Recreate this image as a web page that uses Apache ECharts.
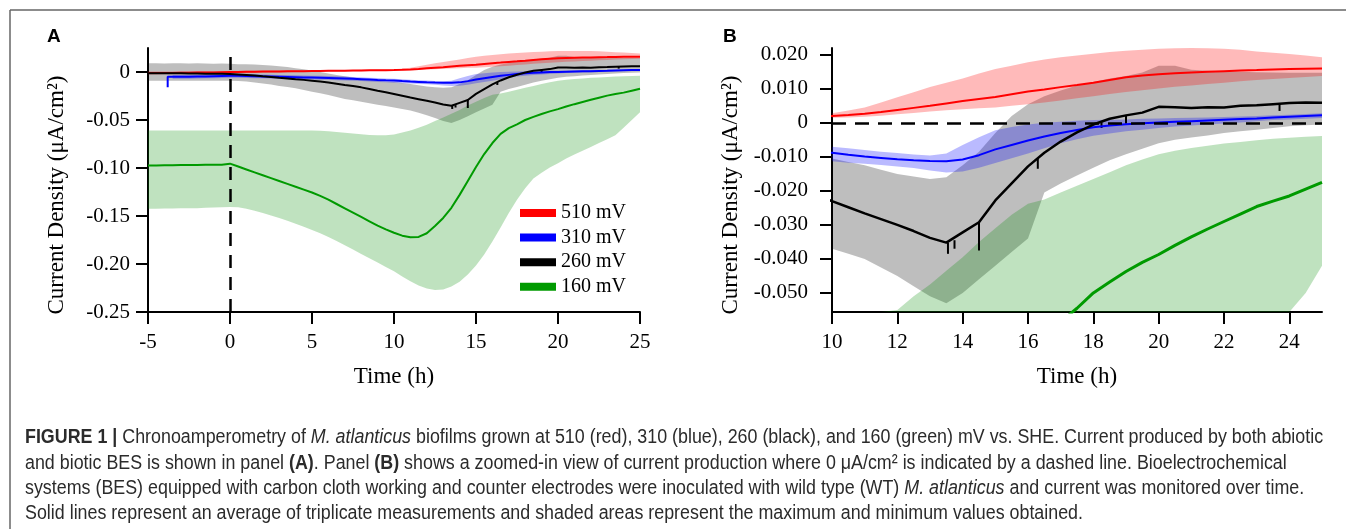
<!DOCTYPE html>
<html>
<head>
<meta charset="utf-8">
<script src="https://cdn.jsdelivr.net/npm/echarts@6/dist/echarts.min.js"></script>
<style>
  html, body { margin: 0; padding: 0; background: #fff; }
  #main { width: 1346px; height: 529px; }
</style>
</head>
<body>
<div id="main"></div>
<script>
// time samples (h)
var hours = [-5,-4.5,-4,-3.5,-3,-2.5,-2,-1.5,-1,-0.5,
  0,0.5,1,1.5,2,2.5,3,3.5,4,4.5,
  5,5.5,6,6.5,7,7.5,8,8.5,9,9.5,
  10,10.5,11,11.5,12,12.5,13,13.5,14,14.5,
  15,15.5,16,16.5,17,17.5,18,18.5,19,19.5,
  20,20.5,21,21.5,22,22.5,23,23.5,24,24.5,
  25];

// 510 mV
var mean510 = [-0.001,-0.001,-0.001,-0.001,-0.0008,-0.0008,-0.0006,-0.0005,-0.0004,-0.0002,
  0,0.0001,0.0002,0.0003,0.0004,0.0005,0.0006,0.0007,0.0008,0.0009,
  0.001,0.0011,0.0012,0.0013,0.0014,0.0015,0.0016,0.0017,0.0018,0.0019,
  0.002,0.0023,0.0027,0.0032,0.0038,0.0044,0.005,0.0057,0.0064,0.007,
  0.0076,0.0084,0.0092,0.0098,0.0105,0.0111,0.0118,0.0126,0.0134,0.0139,
  0.0143,0.0146,0.0148,0.015,0.0152,0.0154,0.0155,0.0157,0.0158,0.0159,
  0.016];
var hi510 = [0.0005,0.0005,0.0005,0.0005,0.0006,0.0006,0.0007,0.0008,0.0009,0.001,
  0.001,0.0011,0.0012,0.0013,0.0014,0.0015,0.0016,0.0017,0.0018,0.0019,
  0.0019,0.002,0.002,0.0021,0.0022,0.0022,0.0023,0.0024,0.0025,0.0026,
  0.0028,0.0036,0.0045,0.006,0.0075,0.009,0.0105,0.0118,0.013,0.0145,
  0.0158,0.0168,0.0178,0.0186,0.0193,0.0198,0.0203,0.0208,0.0212,0.0215,
  0.0218,0.0219,0.022,0.0219,0.0218,0.0215,0.021,0.0206,0.0202,0.0198,
  0.0193];
var lo510 = [-0.0025,-0.0025,-0.0024,-0.0024,-0.0023,-0.0022,-0.0021,-0.002,-0.0019,-0.0018,
  -0.0016,-0.0014,-0.0012,-0.001,-0.0008,-0.0006,-0.0004,-0.0002,0,0.0002,
  0.0003,0.0004,0.0005,0.0006,0.0007,0.0008,0.0009,0.001,0.0011,0.0013,
  0.0015,0.0016,0.0018,0.0021,0.0025,0.0029,0.0033,0.0037,0.004,0.0043,
  0.0045,0.005,0.0055,0.006,0.0066,0.0072,0.0078,0.0085,0.0091,0.0096,
  0.0101,0.0106,0.011,0.0114,0.0118,0.0122,0.0126,0.0129,0.0132,0.0135,
  0.0138];

// 310 mV
var mean310 = [null,null,null,-0.005,-0.005,-0.005,-0.0048,-0.0046,-0.0044,-0.0042,
  -0.004,-0.004,-0.0042,-0.0044,-0.0046,-0.0048,-0.005,-0.0052,-0.0054,-0.0056,
  -0.0058,-0.006,-0.0062,-0.0065,-0.0068,-0.0071,-0.0075,-0.0079,-0.0083,-0.0086,
  -0.0088,-0.0094,-0.0099,-0.0103,-0.0107,-0.011,-0.0112,-0.0113,-0.0108,-0.0095,
  -0.0078,-0.0065,-0.0052,-0.004,-0.003,-0.0021,-0.0013,-0.0008,-0.0004,-0.0001,
  0.0001,0.0003,0.0005,0.0007,0.0009,0.0011,0.0013,0.0016,0.0018,0.002,
  0.0022];
var hi310 = [null,null,null,-0.003,-0.003,-0.003,-0.0028,-0.0026,-0.0024,-0.0022,
  -0.002,-0.002,-0.0022,-0.0024,-0.0026,-0.0028,-0.003,-0.0032,-0.0034,-0.0036,
  -0.0038,-0.004,-0.0042,-0.0045,-0.0048,-0.0051,-0.0055,-0.0059,-0.0063,-0.0067,
  -0.007,-0.0075,-0.008,-0.0085,-0.0089,-0.0093,-0.0096,-0.009,-0.0065,-0.0042,
  -0.0022,-0.0012,-0.0005,0,0.0003,0.0006,0.0008,0.0009,0.001,0.0012,
  0.0013,0.0014,0.0015,0.0016,0.0017,0.0019,0.002,0.0022,0.0024,0.0026,
  0.0028];
var lo310 = [null,null,null,-0.007,-0.007,-0.007,-0.0068,-0.0066,-0.0064,-0.0062,
  -0.006,-0.006,-0.0062,-0.0064,-0.0066,-0.0068,-0.007,-0.0072,-0.0074,-0.0076,
  -0.0078,-0.008,-0.0082,-0.0085,-0.0088,-0.0091,-0.0095,-0.0099,-0.0103,-0.0108,
  -0.0113,-0.0117,-0.012,-0.0124,-0.0128,-0.0133,-0.014,-0.0146,-0.0143,-0.0132,
  -0.0118,-0.0104,-0.009,-0.0075,-0.006,-0.0048,-0.0038,-0.0031,-0.0025,-0.002,
  -0.0015,-0.0011,-0.0008,-0.0005,-0.0002,0.0001,0.0005,0.0008,0.001,0.0012,
  0.0014];
var blueStart = [[-3.8, -0.016], [-3.8, -0.005]];

// 260 mV
var mean260 = [-0.0012,-0.0012,-0.0013,-0.0013,-0.0014,-0.0015,-0.0016,-0.0017,-0.0018,-0.0019,
  -0.002,-0.0025,-0.003,-0.0037,-0.0045,-0.0052,-0.006,-0.0067,-0.0075,-0.0082,
  -0.009,-0.01,-0.011,-0.0122,-0.0135,-0.0147,-0.016,-0.0177,-0.0195,-0.0212,
  -0.023,-0.0248,-0.0266,-0.0283,-0.03,-0.0318,-0.0338,-0.0352,-0.0322,-0.0292,
  -0.0228,-0.0178,-0.0128,-0.0088,-0.0055,-0.0028,-0.0005,0.0012,0.0022,0.003,
  0.0047,0.0046,0.0044,0.0046,0.0045,0.005,0.0052,0.0055,0.0058,0.006,
  0.0059];
var hi260 = [0.009,0.009,0.0088,0.0092,0.009,0.0088,0.0091,0.0089,0.0087,0.0088,
  0.0085,0.0082,0.008,0.0077,0.0073,0.0068,0.006,0.0052,0.004,0.0028,
  0.0015,0,-0.0015,-0.003,-0.0045,-0.0058,-0.007,-0.008,-0.009,-0.0098,
  -0.0105,-0.0115,-0.0125,-0.0138,-0.015,-0.0158,-0.0165,-0.016,-0.0125,-0.0085,
  -0.003,0.002,0.0055,0.0078,0.0095,0.011,0.012,0.013,0.0138,0.0148,
  0.0168,0.0168,0.0156,0.0153,0.0152,0.015,0.0149,0.0148,0.0147,0.0147,
  0.0147];
var lo260 = [-0.009,-0.009,-0.009,-0.009,-0.009,-0.009,-0.009,-0.009,-0.009,-0.009,
  -0.009,-0.0095,-0.01,-0.011,-0.012,-0.013,-0.0145,-0.0157,-0.017,-0.0187,
  -0.0205,-0.0222,-0.024,-0.026,-0.028,-0.0295,-0.031,-0.0325,-0.034,-0.0355,
  -0.037,-0.0385,-0.04,-0.0425,-0.045,-0.048,-0.051,-0.053,-0.05,-0.046,
  -0.042,-0.038,-0.034,-0.0205,-0.0178,-0.0155,-0.0132,-0.011,-0.0092,-0.0076,
  -0.006,-0.005,-0.0043,-0.0037,-0.003,-0.0025,-0.002,-0.0015,-0.001,-0.0007,
  -0.0005];
// [time, top, bottom] of the short downward spikes on the 260 mV trace
var spikes260 = [[13.55,-0.0352,-0.0385],[13.75,-0.0345,-0.037],[14.5,-0.0292,-0.0375],
  [16.3,-0.0105,-0.0135],[18.25,0.0002,-0.0015],[19.0,0.0022,-0.0003],[23.7,0.0056,0.0035]];

// 160 mV
var mean160 = [-0.0975,-0.0973,-0.0972,-0.0972,-0.097,-0.097,-0.0968,-0.0967,-0.0966,-0.0965,
  -0.0955,-0.0985,-0.1015,-0.1045,-0.1075,-0.1105,-0.1135,-0.1165,-0.1195,-0.1225,
  -0.1255,-0.129,-0.133,-0.1375,-0.142,-0.1465,-0.151,-0.1555,-0.16,-0.164,
  -0.1675,-0.1705,-0.1722,-0.1718,-0.168,-0.1605,-0.152,-0.1415,-0.128,-0.1135,
  -0.099,-0.0855,-0.074,-0.0645,-0.0585,-0.0545,-0.05,-0.0468,-0.0437,-0.041,
  -0.0387,-0.036,-0.0335,-0.0312,-0.029,-0.0268,-0.0246,-0.023,-0.0215,-0.0195,
  -0.0175];
var hi160 = [-0.061,-0.061,-0.061,-0.061,-0.061,-0.061,-0.061,-0.061,-0.061,-0.061,
  -0.061,-0.061,-0.061,-0.061,-0.061,-0.061,-0.061,-0.061,-0.061,-0.061,
  -0.061,-0.0613,-0.0618,-0.0625,-0.0632,-0.064,-0.0648,-0.0655,-0.066,-0.0658,
  -0.065,-0.063,-0.061,-0.058,-0.055,-0.051,-0.0475,-0.0435,-0.0395,-0.035,
  -0.031,-0.027,-0.0238,-0.0225,-0.0205,-0.0185,-0.0165,-0.0145,-0.0125,-0.0108,
  -0.0092,-0.0082,-0.0074,-0.0067,-0.0061,-0.0056,-0.0051,-0.0047,-0.0044,-0.0041,
  -0.0039];
var lo160 = [-0.1425,-0.1425,-0.1423,-0.1422,-0.142,-0.142,-0.1418,-0.1415,-0.1412,-0.141,
  -0.1405,-0.141,-0.1425,-0.1445,-0.147,-0.1495,-0.152,-0.155,-0.158,-0.1612,
  -0.1645,-0.168,-0.172,-0.176,-0.1805,-0.185,-0.1895,-0.194,-0.1985,-0.203,
  -0.2075,-0.213,-0.218,-0.2225,-0.2255,-0.227,-0.2265,-0.2235,-0.2185,-0.211,
  -0.2015,-0.19,-0.1765,-0.162,-0.147,-0.133,-0.121,-0.111,-0.105,-0.0995,
  -0.095,-0.09,-0.086,-0.082,-0.078,-0.074,-0.07,-0.066,-0.058,-0.05,
  -0.042];

// ticks
var ticksAx = [-5, 0, 5, 10, 15, 20, 25];
var ticksAy = [-0.25, -0.2, -0.15, -0.1, -0.05, 0];
var ticksBx = [10, 12, 14, 16, 18, 20, 22, 24];
var ticksBy = [-0.05, -0.04, -0.03, -0.02, -0.01, 0, 0.01, 0.02];

var serif = '"Liberation Serif", "Times New Roman", serif';
var sans = '"Liberation Sans", Arial, sans-serif';

var panels = [
  { xMin: -5, xMax: 25, yMin: -0.25, yMax: 0.025, left: 148, width: 492, xt: ticksAx, yt: ticksAy, dec: 2, margin: 18 },
  { xMin: 10, xMax: 25, yMin: -0.0556, yMax: 0.022, left: 832, width: 490, xt: ticksBx, yt: ticksBy, dec: 3, margin: 24 }
];

var colors = { r: '#ff0000', b: '#0000ff', k: '#000000', g: '#009a00' };

function bandSeries(p, lo, hi, fill) {
  var P = panels[p];
  function clampY(v) { return Math.max(P.yMin, Math.min(P.yMax, v)); }
  return {
    type: 'custom', xAxisIndex: p, yAxisIndex: p, silent: true, clip: true, z: 1,
    data: [[P.xMin, P.yMin]],
    renderItem: function (params, api) {
      var top = [], bottom = [];
      hours.forEach(function (t, i) {
        if (t < P.xMin || t > P.xMax || hi[i] == null) return;
        top.push(api.coord([t, clampY(hi[i])]));
        bottom.unshift(api.coord([t, clampY(lo[i])]));
      });
      return { type: 'polygon', shape: { points: top.concat(bottom) }, style: { fill: fill } };
    }
  };
}

function lineSeries(p, name, values, color, width, extra) {
  var data = [];
  hours.forEach(function (t, i) { if (values[i] != null) data.push([t, values[i]]); });
  if (extra) data = extra.concat(data);
  return {
    type: 'line', name: name, xAxisIndex: p, yAxisIndex: p, data: data, color: color,
    symbol: 'none', showSymbol: false, clip: true, silent: true, z: 3,
    lineStyle: { color: color, width: width }
  };
}

function spikeSeries(p) {
  return {
    type: 'custom', xAxisIndex: p, yAxisIndex: p, silent: true, clip: true, z: 3,
    data: spikes260, encode: { x: 0, y: [1, 2] },
    renderItem: function (params, api) {
      var a = api.coord([api.value(0), api.value(1)]);
      var b = api.coord([api.value(0), api.value(2)]);
      return { type: 'line', shape: { x1: a[0], y1: a[1], x2: b[0], y2: b[1] }, style: { stroke: '#000', lineWidth: 2 } };
    }
  };
}

var series = [];
panels.forEach(function (P, p) {
  series.push(bandSeries(p, lo260, hi260, 'rgba(0,0,0,0.255)'));
  series.push(bandSeries(p, lo160, hi160, 'rgba(0,140,0,0.25)'));
  series.push(bandSeries(p, lo310, hi310, 'rgba(0,0,255,0.27)'));
  series.push(bandSeries(p, lo510, hi510, 'rgba(255,0,0,0.27)'));
  series.push(lineSeries(p, '510 mV', mean510, colors.r, 2));
  series.push(lineSeries(p, '310 mV', mean310, colors.b, 2, p === 0 ? blueStart : null));
  var black = lineSeries(p, '260 mV', mean260, colors.k, p === 0 ? 2 : 2.5);
  black.markLine = {
    silent: true, symbol: 'none', label: { show: false }, animation: false,
    lineStyle: { color: '#000', width: 2.5, type: p === 0 ? [13, 9] : [14, 9] },
    data: p === 0 ? [{ xAxis: 0 }] : [{ yAxis: 0 }]
  };
  series.push(black);
  series.push(spikeSeries(p));
  series.push(lineSeries(p, '160 mV', mean160, colors.g, p === 0 ? 2 : 3));
});

// caption
var captionLines = [
  '{b|FIGURE 1 |} Chronoamperometry of {i|M. atlanticus} biofilms grown at 510 (red), 310 (blue), 260 (black), and 160 (green) mV vs. SHE. Current produced by both abiotic',
  'and biotic BES is shown in panel {b|(A)}. Panel {b|(B)} shows a zoomed-in view of current production where 0 \u03bcA/cm\u00b2 is indicated by a dashed line. Bioelectrochemical',
  'systems (BES) equipped with carbon cloth working and counter electrodes were inoculated with wild type (WT) {i|M. atlanticus} and current was monitored over time.',
  'Solid lines represent an average of triplicate measurements and shaded areas represent the maximum and minimum values obtained.'
];
var ctx = document.createElement('canvas').getContext('2d');
ctx.font = '20px ' + sans;
var capScale = 1058 / ctx.measureText(captionLines[3]).width;

var graphic = [
  { type: 'line', shape: { x1: 10, y1: 10, x2: 1346, y2: 10 }, style: { stroke: '#666', lineWidth: 1.5 } },
  { type: 'line', shape: { x1: 10, y1: 10, x2: 10, y2: 529 }, style: { stroke: '#666', lineWidth: 1.5 } },
  { type: 'text', x: 47, y: 37, style: { text: 'A', font: 'bold 19px ' + sans, fill: '#000', verticalAlign: 'middle' } },
  { type: 'text', x: 723, y: 37, style: { text: 'B', font: 'bold 19px ' + sans, fill: '#000', verticalAlign: 'middle' } },
  { type: 'text', x: 57, y: 195, rotation: Math.PI / 2, style: { text: 'Current Density (\u03bcA/cm\u00b2)', font: '23px ' + serif, fill: '#000', align: 'center', verticalAlign: 'middle' } },
  { type: 'text', x: 731, y: 195, rotation: Math.PI / 2, style: { text: 'Current Density (\u03bcA/cm\u00b2)', font: '23px ' + serif, fill: '#000', align: 'center', verticalAlign: 'middle' } }
];
var capY = [437, 463, 488, 513];
captionLines.forEach(function (txt, i) {
  graphic.push({
    type: 'text', x: 25, y: capY[i], scaleX: capScale,
    style: {
      text: txt, fontSize: 20, fontFamily: sans, fill: '#2b2b2b', verticalAlign: 'middle',
      rich: {
        b: { fontSize: 20, fontFamily: sans, fontWeight: 'bold', fill: '#2b2b2b' },
        i: { fontSize: 20, fontFamily: sans, fontStyle: 'italic', fill: '#2b2b2b' }
      }
    }
  });
});

var chart = echarts.init(document.getElementById('main'));
chart.setOption({
  animation: false,
  backgroundColor: '#fff',
  grid: panels.map(function (P) {
    return { left: P.left, top: 48, width: P.width, height: 264 };
  }),
  xAxis: panels.map(function (P, p) {
    return {
      type: 'value', gridIndex: p, min: P.xMin, max: P.xMax,
      axisLine: { onZero: false, lineStyle: { color: '#000', width: 2 } },
      axisTick: { show: true, length: 12, customValues: P.xt, lineStyle: { color: '#000', width: 2 } },
      axisLabel: { customValues: P.xt, margin: 20, color: '#000', fontSize: 21, fontFamily: serif,
        formatter: function (v) { return String(v); } },
      splitLine: { show: false },
      name: 'Time (h)', nameLocation: 'middle', nameGap: 53,
      nameTextStyle: { color: '#000', fontSize: 23, fontFamily: serif }
    };
  }),
  yAxis: panels.map(function (P, p) {
    return {
      type: 'value', gridIndex: p, min: P.yMin, max: P.yMax,
      axisLine: { show: true, onZero: false, lineStyle: { color: '#000', width: 2 } },
      axisTick: { show: true, length: 12, customValues: P.yt, lineStyle: { color: '#000', width: 2 } },
      axisLabel: { customValues: P.yt, margin: P.margin, color: '#000', fontSize: 21, fontFamily: serif,
        formatter: function (v) { return Math.abs(v) < 1e-9 ? '0' : v.toFixed(P.dec); } },
      splitLine: { show: false }
    };
  }),
  legend: {
    data: ['510 mV', '310 mV', '260 mV', '160 mV'], orient: 'vertical', left: 520, top: 203, padding: 0,
    itemWidth: 36, itemHeight: 8, itemGap: 4.6, icon: 'rect', selectedMode: false,
    textStyle: { color: '#000', fontSize: 20, fontFamily: serif, lineHeight: 20 }
  },
  graphic: graphic,
  series: series
});
</script>
</body>
</html>
